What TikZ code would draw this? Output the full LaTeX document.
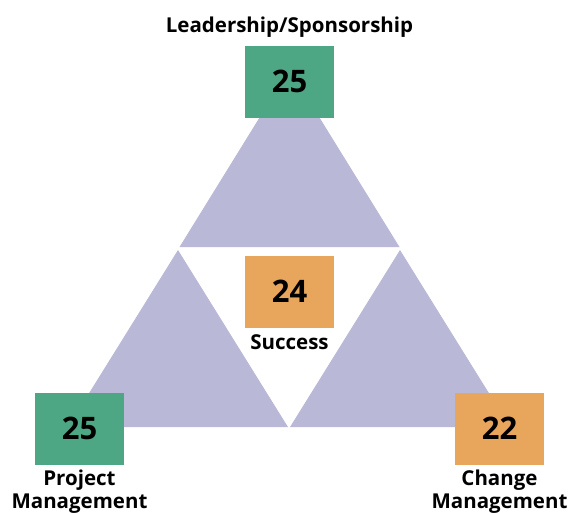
\documentclass[tikz,border=0pt]{standalone}
\usepackage{fontspec}
\setmainfont{Open Sans}
\definecolor{boxgreen}{RGB}{77,166,132}
\definecolor{boxorange}{RGB}{232,165,92}
\definecolor{wedge}{RGB}{185,184,214}
\begin{document}
\begin{tikzpicture}[x=1pt,y=-1pt,
  scorebox/.style={minimum width=89pt,minimum height=72pt,inner sep=0pt},
  caption/.style={anchor=base,font=\fontsize{20.5}{23}\selectfont\bfseries,
    align=center,inner sep=0pt},
  score/.style={anchor=base,inner sep=0pt,font=\fontsize{31}{31}\selectfont\bfseries},
  wedgefill/.style={fill=wedge}]
\useasboundingbox (0,0) rectangle (570,512);
% three wedges of the triangle
\fill[wedgefill] (289.5,69) -- (399.5,247) -- (179.5,247) -- cycle;
\fill[wedgefill] (178,250) -- (288,427) -- (68,427) -- cycle;
\fill[wedgefill] (400,250) -- (510,427) -- (290,427) -- cycle;
% score boxes
\node[scorebox,fill=boxgreen]  (lead) at (289.5,81.5) {};
\node[scorebox,fill=boxorange] (succ) at (289.5,292) {};
\node[scorebox,fill=boxgreen]  (proj) at (79.5,428.5) {};
\node[scorebox,fill=boxorange] (chg)  at (499.5,428.5) {};
\node[score] (leadnum) at (289.5,92) {25};
\node[score] (succnum) at (289.5,302.5) {24};
\node[score] (projnum) at (79.5,439) {25};
\node[score] (chgnum)  at (499.5,439) {22};
% captions (base of a two-line caption is its last line)
\node[caption] (leadlbl) at (289.5,32) {Leadership/Sponsorship};
\node[caption] (succlbl) at (289.5,349) {Success};
\node[caption] (projlbl) at (79.5,508) {Project\\Management};
\node[caption] (chglbl)  at (499.5,508) {Change\\Management};
\end{tikzpicture}
\end{document}
